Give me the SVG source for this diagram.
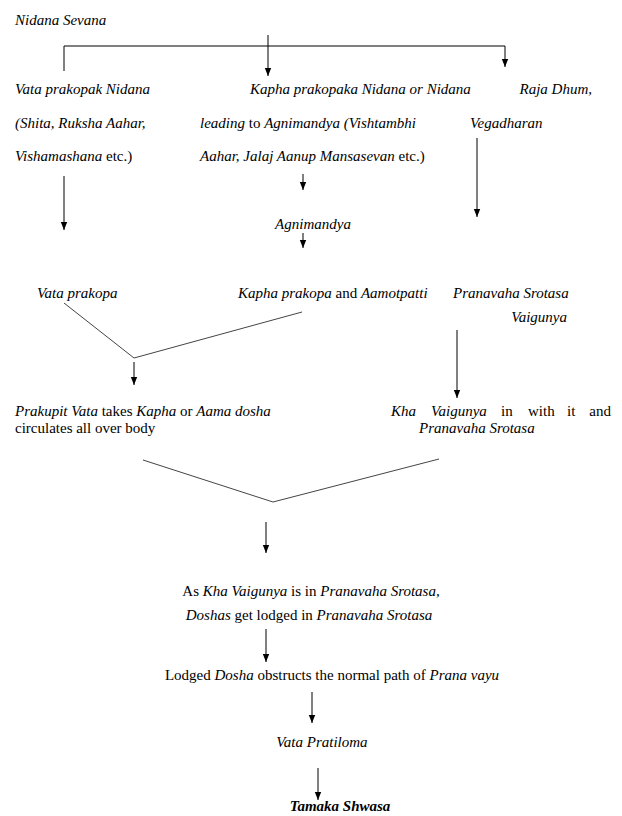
<svg xmlns="http://www.w3.org/2000/svg" width="622" height="816" viewBox="0 0 622 816">
<style>
text{font-family:"Liberation Serif","Times New Roman","DejaVu Serif",serif;font-size:15px;fill:#000}
.i{font-style:italic}
.b{font-weight:bold}
.m{text-anchor:middle}
.e{text-anchor:end}
.a{stroke:#000;stroke-width:1;fill:none}
.d{stroke:#444;stroke-width:1;fill:none}
</style>
<defs>
<marker id="ah" viewBox="0 0 8 8" refX="8" refY="4" markerWidth="8" markerHeight="8" markerUnits="userSpaceOnUse" orient="auto">
<path d="M0,0.8 L8,4 L0,7.2 Z" fill="#000"/>
</marker>
</defs>
<rect width="622" height="816" fill="#fff"/>
<g id="connectors">
<path class="a" d="M268,35 V76" marker-end="url(#ah)"/>
<path class="a" d="M64,71 V46 H505 V67" marker-end="url(#ah)"/>
<path class="a" d="M64,176 V230" marker-end="url(#ah)"/>
<path class="a" d="M303,174 V190" marker-end="url(#ah)"/>
<path class="a" d="M477,138 V217" marker-end="url(#ah)"/>
<path class="a" d="M303,233 V248" marker-end="url(#ah)"/>
<path class="d" d="M64,303 L134,358 L302,312"/>
<path class="a" d="M134,362 V385" marker-end="url(#ah)"/>
<path class="a" d="M457,330 V398" marker-end="url(#ah)"/>
<path class="d" d="M143,460 L273,502 L439,459"/>
<path class="a" d="M266,522 V553" marker-end="url(#ah)"/>
<path class="a" d="M266,629 V662" marker-end="url(#ah)"/>
<path class="a" d="M312,692 V723" marker-end="url(#ah)"/>
<path class="a" d="M318,768 V800" marker-end="url(#ah)"/>
</g>
<g id="n-nidana-sevana"><text class="i" x="15" y="25">Nidana Sevana</text></g>
<g id="n-vata-nidana">
<text class="i" x="15" y="94">Vata prakopak Nidana</text>
<text class="i" x="15" y="128">(Shita, Ruksha Aahar,</text>
<text x="15" y="161"><tspan class="i">Vishamashana</tspan> etc.)</text>
</g>
<g id="n-kapha-nidana">
<text class="i" x="250" y="94">Kapha prakopaka Nidana or Nidana</text>
<text x="200" y="128"><tspan class="i">leading</tspan> to <tspan class="i">Agnimandya (Vishtambhi</tspan></text>
<text x="200" y="161"><tspan class="i">Aahar, Jalaj Aanup Mansasevan</tspan> etc.)</text>
</g>
<g id="n-raja">
<text class="i e" x="592" y="94">Raja Dhum,</text>
<text class="i" x="470" y="128">Vegadharan</text>
</g>
<g id="n-agnimandya"><text class="i m" x="313" y="229">Agnimandya</text></g>
<g id="n-vata-prakopa"><text class="i" x="37" y="298">Vata prakopa</text></g>
<g id="n-kapha-prakopa"><text x="238" y="298"><tspan class="i">Kapha prakopa</tspan> and <tspan class="i">Aamotpatti</tspan></text></g>
<g id="n-pranavaha">
<text class="i" x="453" y="298">Pranavaha Srotasa</text>
<text class="i e" x="567" y="322">Vaigunya</text>
</g>
<g id="n-prakupit">
<text x="15" y="416"><tspan class="i">Prakupit Vata</tspan> takes <tspan class="i">Kapha</tspan> or <tspan class="i">Aama dosha</tspan></text>
<text x="15" y="433">circulates all over body</text>
</g>
<g id="n-kha">
<text class="i" x="391" y="416">Kha</text>
<text class="i" x="431" y="416">Vaigunya</text>
<text x="501" y="416">in</text>
<text x="528" y="416">with</text>
<text x="567" y="416">it</text>
<text class="e" x="611" y="416">and</text>
<text class="i" x="419" y="433">Pranavaha Srotasa</text>
</g>
<g id="n-lodged-srotasa">
<text class="m" x="311" y="596">As <tspan class="i">Kha Vaigunya</tspan> is in <tspan class="i">Pranavaha Srotasa,</tspan></text>
<text class="m" x="309" y="620"><tspan class="i">Doshas</tspan> get lodged in <tspan class="i">Pranavaha Srotasa</tspan></text>
</g>
<g id="n-obstructs"><text class="m" x="332" y="680">Lodged <tspan class="i">Dosha</tspan> obstructs the normal path of <tspan class="i">Prana vayu</tspan></text></g>
<g id="n-pratiloma"><text class="i m" x="322" y="747">Vata Pratiloma</text></g>
<g id="n-tamaka"><text class="i b m" x="340" y="811">Tamaka Shwasa</text></g>
</svg>
